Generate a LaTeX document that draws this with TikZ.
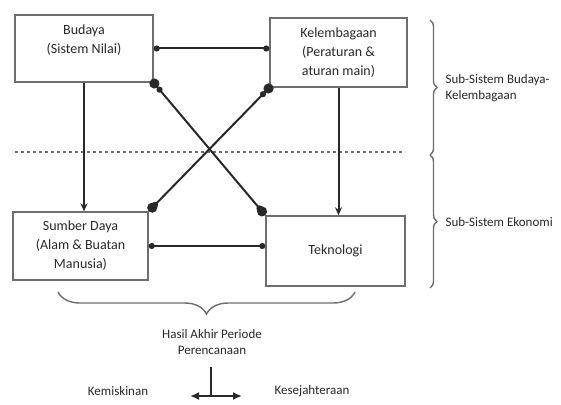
\documentclass[tikz,border=0pt]{standalone}
\usepackage{fontspec}
\setmainfont{Carlito}
\usetikzlibrary{arrows.meta,decorations.pathreplacing}
\definecolor{tinta}{RGB}{40,40,40}
\definecolor{garis}{RGB}{110,110,110}
\tikzstyle{blok}=[draw=garis,line width=1.5pt,align=center,text=tinta,font=\fontsize{14}{19}\selectfont]
\tikzstyle{teks}=[align=center,text=tinta,font=\fontsize{13}{16}\selectfont]
\tikzstyle{hubung}=[draw=tinta,line width=2pt]
\newcommand{\blok}[5]{\node[blok,minimum width=#3,minimum height=#4] (#1) at (#2) {#5};}
\newcommand{\kurung}[4]{\draw[garis,line width=1.4pt,decorate,decoration={brace,amplitude=#4}] (#1) -- (#2) coordinate[pos=0.5] (#3);}

\begin{document}
\begin{tikzpicture}[x=1pt,y=-1pt]
    \useasboundingbox (0,0) rectangle (561,404);
    % empat subsistem
    \blok{bud}{84,48.5}{138pt}{67pt}{Budaya\\(Sistem Nilai)\\~}
    \blok{kel}{338.5,52.5}{137pt}{69pt}{Kelembagaan\\(Peraturan \&\\aturan main)}
    \blok{sd}{80.5,246}{135pt}{68pt}{Sumber Daya\\(Alam \& Buatan\\Manusia)}
    \blok{tek}{335.5,251}{139pt}{70pt}{Teknologi}
    
    % batas budaya / ekonomi
    \draw[garis,line width=1.3pt,dashed] (15,152) -- (405,152);
    
    \draw[hubung,{Circle[length=6pt]}-{Circle[length=6pt]}] (bud.east) -- (bud.east -| kel.west);
    \draw[hubung,{Circle[length=6pt]}-{Circle[length=6pt]}] (sd.east) -- (sd.east -| tek.west);
    \draw[hubung,-{Stealth[length=8pt,width=7pt]}] (bud.south) -- (bud.south |- sd.north);
    \draw[hubung,-{Stealth[length=8pt,width=7pt]}] (kel.south) -- (kel.south |- tek.north);
    \draw[hubung,{Circle[length=10pt,sep=-4pt]Circle[length=6pt]}-{Circle[length=6pt,sep=-4pt]Circle[length=10pt]}] (bud.south east) -- (tek.north west);
    \draw[hubung,{Circle[length=10pt,sep=-4pt]Circle[length=6pt]}-{Circle[length=6pt,sep=-4pt]Circle[length=10pt]}] (kel.south west) -- (sd.north east);
    
    % kurung kanan
    \kurung{430,20}{430,155}{k1}{7pt}
    \kurung{430,155}{430,288}{k2}{7pt}
    \node[teks,anchor=west,align=left] (sbk) at (442,88) {Sub-Sistem Budaya-\\Kelembagaan};
    \node[teks,anchor=west] (se) at (442,222) {Sub-Sistem Ekonomi};
    
    % hasil akhir
    \kurung{355,292}{58,292}{k3}{22pt}
    \node[teks] (hasil) at (212,342) {Hasil Akhir Periode\\Perencanaan};
    \coordinate (cabang) at (211,396);
    \coordinate (kiri) at (190,396);
    \coordinate (kanan) at (242,396);
    \draw[hubung] (211,367) -- (cabang);
    \draw[hubung,{Latex[length=9pt,width=8pt]}-{Latex[length=9pt,width=8pt]}] (kiri) -- (kanan);
    \node[teks] (miskin) at (118,391) {Kemiskinan};
    \node[teks] (sejahtera) at (312,391) {Kesejahteraan};
\end{tikzpicture}
\end{document}
